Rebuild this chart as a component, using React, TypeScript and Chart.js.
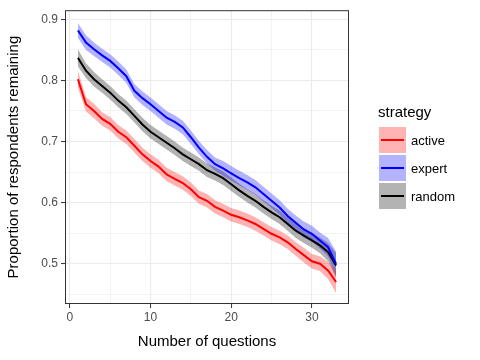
import React, { useEffect, useRef } from "react";
import { Chart, registerables } from "chart.js";

Chart.register(...registerables);

const questions = [1,2,3,4,5,6,7,8,9,10,11,12,13,14,15,16,17,18,19,20,21,22,23,24,25,26,27,28,29,30,31,32,33];

const activeVals = [0.802,0.761,0.750,0.737,0.729,0.716,0.707,0.693,0.679,0.668,0.659,0.646,0.639,0.632,0.622,0.609,0.603,0.593,0.587,0.580,0.576,0.571,0.565,0.557,0.549,0.543,0.535,0.524,0.514,0.504,0.500,0.489,0.470];
const expertVals = [0.882,0.862,0.851,0.841,0.832,0.820,0.807,0.783,0.771,0.761,0.750,0.739,0.732,0.723,0.707,0.690,0.675,0.663,0.656,0.648,0.640,0.633,0.625,0.614,0.603,0.592,0.578,0.567,0.556,0.549,0.538,0.527,0.500];
const randomVals = [0.837,0.816,0.802,0.791,0.780,0.767,0.756,0.742,0.728,0.716,0.707,0.698,0.689,0.679,0.671,0.663,0.653,0.647,0.640,0.630,0.620,0.611,0.603,0.593,0.584,0.576,0.565,0.554,0.546,0.538,0.530,0.519,0.497];

const activeHalf = [0.014,0.012,0.012,0.011,0.011,0.011,0.011,0.011,0.011,0.011,0.011,0.011,0.011,0.011,0.011,0.011,0.011,0.011,0.011,0.011,0.011,0.011,0.011,0.011,0.011,0.011,0.011,0.011,0.012,0.012,0.012,0.014,0.018];
const expertHalf = [0.012,0.012,0.011,0.011,0.011,0.011,0.011,0.011,0.011,0.011,0.011,0.011,0.011,0.011,0.011,0.011,0.011,0.011,0.012,0.012,0.012,0.012,0.012,0.012,0.012,0.012,0.012,0.012,0.013,0.013,0.013,0.015,0.020];
const randomHalf = [0.014,0.012,0.012,0.011,0.011,0.011,0.011,0.011,0.011,0.011,0.011,0.011,0.011,0.011,0.011,0.011,0.011,0.011,0.011,0.011,0.011,0.011,0.011,0.011,0.011,0.011,0.011,0.012,0.012,0.012,0.013,0.015,0.020];

const xTicks = [0, 10, 20, 30];
const xMinor = [5, 15, 25];
const yTicks = [0.5, 0.6, 0.7, 0.8, 0.9];
const yMinor = [0.45, 0.55, 0.65, 0.75, 0.85];

const strategies = ["active", "expert", "random"];
const lineColors = ["#FF0000", "#0000FF", "#000000"];
const ribbonColors = ["rgba(255,0,0,0.3)", "rgba(0,0,255,0.3)", "rgba(0,0,0,0.3)"];
const keyColors = ["#FFB3B3", "#B3B3FF", "#B3B3B3"];

const FONT = "'Liberation Sans', Arial, Helvetica, sans-serif";

const boxPlugin = {
  id: "panelBox",
  afterDraw(chart: any) {
    const { ctx, chartArea } = chart;
    ctx.save();
    ctx.strokeStyle = "#333333";
    ctx.lineWidth = 1;
    ctx.strokeRect(chartArea.left + 0.5, chartArea.top + 0.5, chartArea.right - chartArea.left - 1, chartArea.bottom - chartArea.top - 1);
    ctx.restore();
  },
};

export default function App() {
  const ref = useRef<HTMLCanvasElement>(null);

  useEffect(() => {
    if (!ref.current) return;
    const series = [activeVals, expertVals, randomVals];
    const halves = [activeHalf, expertHalf, randomHalf];
    const datasets: any[] = [];
    series.forEach((vals, s) => {
      datasets.push({
        label: strategies[s] + " upper",
        data: questions.map((q, i) => ({ x: q, y: vals[i] + halves[s][i] })),
        borderWidth: 0,
        pointRadius: 0,
        backgroundColor: ribbonColors[s],
        fill: "+1",
        tension: 0,
      });
      datasets.push({
        label: strategies[s] + " lower",
        data: questions.map((q, i) => ({ x: q, y: vals[i] - halves[s][i] })),
        borderWidth: 0,
        pointRadius: 0,
        backgroundColor: ribbonColors[s],
        fill: false,
        tension: 0,
      });
    });
    series.forEach((vals, s) => {
      datasets.push({
        label: strategies[s],
        data: questions.map((q, i) => ({ x: q, y: vals[i] })),
        borderColor: lineColors[s],
        borderWidth: 2,
        pointRadius: 0,
        fill: false,
        tension: 0,
      });
    });

    const allX = [...xTicks, ...xMinor].sort((a, b) => a - b);
    const allY = [...yTicks, ...yMinor].sort((a, b) => a - b);

    const chart = new Chart(ref.current, {
      type: "line",
      data: { datasets },
      plugins: [boxPlugin],
      options: {
        animation: false,
        responsive: false,
        events: [],
        layout: { padding: { left: 0, right: 131, top: 9, bottom: 9 } },
        plugins: {
          legend: { display: false },
          tooltip: { enabled: false },
          filler: { drawTime: "beforeDatasetsDraw" },
        },
        scales: {
          x: {
            type: "linear",
            min: -0.6,
            max: 34.6,
            afterBuildTicks: (scale: any) => {
              scale.ticks = allX.map((v) => ({ value: v }));
            },
            afterFit: (scale: any) => {
              scale.height = 47;
            },
            ticks: {
              autoSkip: false,
              maxRotation: 0,
              padding: 2,
              color: "#4D4D4D",
              font: { family: FONT, size: 12 },
              callback: (v: any) => (xTicks.includes(v) ? String(v) : ""),
            },
            grid: {
              color: "#EBEBEB",
              lineWidth: (c: any) => (xTicks.includes(c.tick?.value) ? 1.1 : 0.6),
              tickLength: 4,
              tickColor: (c: any) => (xTicks.includes(c.tick?.value) ? "#333333" : "rgba(0,0,0,0)"),
              tickWidth: 1,
            },
            border: { display: false },
            title: {
              display: true,
              text: "Number of questions",
              color: "#000000",
              font: { family: FONT, size: 15 },
              padding: { top: 2, bottom: 0 },
            },
          },
          y: {
            type: "linear",
            min: 0.434,
            max: 0.915,
            afterBuildTicks: (scale: any) => {
              scale.ticks = allY.map((v) => ({ value: v }));
            },
            afterFit: (scale: any) => {
              scale.width = 65;
            },
            ticks: {
              autoSkip: false,
              padding: 3,
              color: "#4D4D4D",
              font: { family: FONT, size: 12 },
              callback: (v: any) => {
                const r = Math.round(v * 100) / 100;
                return yTicks.some((t) => Math.abs(t - r) < 1e-6) ? r.toFixed(1) : "";
              },
            },
            grid: {
              color: "#EBEBEB",
              lineWidth: (c: any) => (yTicks.some((t) => Math.abs(t - (c.tick?.value ?? -1)) < 1e-6) ? 1.1 : 0.6),
              tickLength: 4,
              tickColor: (c: any) => (yTicks.some((t) => Math.abs(t - (c.tick?.value ?? -1)) < 1e-6) ? "#333333" : "rgba(0,0,0,0)"),
              tickWidth: 1,
            },
            border: { display: false },
            title: {
              display: true,
              text: "Proportion of respondents remaining",
              color: "#000000",
              font: { family: FONT, size: 15 },
              padding: { top: 5, bottom: 0 },
            },
          },
        },
      },
    } as any);
    return () => chart.destroy();
  }, []);

  return (
    <div style={{ position: "absolute", left: 0, top: 0, width: 480, height: 360, background: "#ffffff", fontFamily: FONT }}>
      <canvas ref={ref} width={480} height={360} style={{ display: "block" }} />
      <div style={{ position: "absolute", left: 378, top: 103, fontSize: 15, color: "#000" }}>strategy</div>
      {strategies.map((s, i) => (
        <div key={s} style={{ position: "absolute", left: 379, top: 127 + i * 28, height: 26, display: "flex", alignItems: "center" }}>
          <div style={{ position: "relative", width: 27, height: 26, background: keyColors[i] }}>
            <div style={{ position: "absolute", left: 2, right: 2, top: 12, height: 2, background: lineColors[i] }} />
          </div>
          <span style={{ marginLeft: 5, fontSize: 13, color: "#000" }}>{s}</span>
        </div>
      ))}
    </div>
  );
}
